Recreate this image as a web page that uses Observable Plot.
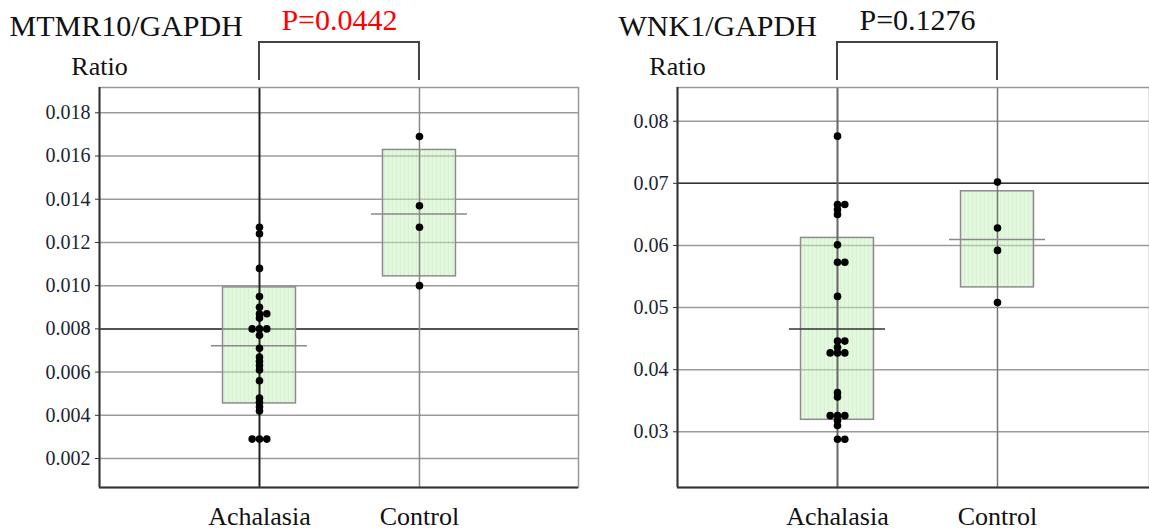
<!DOCTYPE html>
<html><head><meta charset="utf-8">
<script src="https://cdn.jsdelivr.net/npm/d3@7"></script>
<script src="https://cdn.jsdelivr.net/npm/@observablehq/plot@0.6"></script>
<style>
body{margin:0;background:#fff;}
#wrap{display:flex;width:1149px;height:530px;overflow:hidden;}
svg{display:block;overflow:visible}
</style></head><body><div id="wrap"></div>
<script>
const categories = ["Achalasia", "Control"];

// MTMR10/GAPDH
const mtmrTitle = "MTMR10/GAPDH";
const mtmrP = "P=0.0442";
const mtmrAchalasia = [0.0127,0.0124,0.0108,0.0095,0.0090,0.0087,0.0087,0.0085,0.0080,0.0080,0.0080,0.0077,0.0071,0.0067,0.0065,0.0063,0.0061,0.0056,0.0048,0.0046,0.0044,0.0042,0.0029,0.0029,0.0029];
const mtmrControl = [0.0169,0.0137,0.0127,0.0100];
const mtmrMean = [0.00722, 0.01332];
const mtmrLower = [0.00455, 0.01043];
const mtmrUpper = [0.00992, 0.01628];
const mtmrTicks = [0.002,0.004,0.006,0.008,0.010,0.012,0.014,0.016,0.018];
const mtmrDomain = [0.00066, 0.01917];
const mtmrDarkGrid = [0.008];

// WNK1/GAPDH
const wnkTitle = "WNK1/GAPDH";
const wnkP = "P=0.1276";
const wnkAchalasia = [0.0776,0.0666,0.0666,0.0658,0.0650,0.0601,0.0573,0.0573,0.0518,0.0446,0.0446,0.0436,0.0427,0.0427,0.0427,0.0363,0.0356,0.0326,0.0326,0.0326,0.0318,0.0310,0.0288,0.0288];
const wnkControl = [0.0702,0.0628,0.0592,0.0508];
const wnkMean = [0.04655, 0.06094];
const wnkLower = [0.03193, 0.05325];
const wnkUpper = [0.06121, 0.06872];
const wnkTicks = [0.03,0.04,0.05,0.06,0.07,0.08];
const wnkDomain = [0.02103, 0.08543];
const wnkDarkGrid = [0.07];

const FONT = "'Liberation Serif','Times New Roman',serif";

function toDots(groups) {
  const out = [];
  groups.forEach((vals, i) => {
    const counts = d3.rollup(vals, v => v.length, v => v);
    const seen = new Map();
    for (const v of vals) {
      const n = counts.get(v), k = seen.get(v) || 0;
      seen.set(v, k + 1);
      const off = n === 1 ? 0 : n === 2 ? k : k - 1;
      out.push({i, v, off});
    }
  });
  return out;
}

function panel(o) {
  const dots = toDots([o.ach, o.ctl]);
  const boxes = categories.map((c, i) => ({i, mean: o.mean[i], lower: o.lower[i], upper: o.upper[i]}));
  const marginTop = 87, height = 530, marginBottom = 43;
  const pid = o.id + "stripe";
  const fmt = d3.format(o.fmt);
  const bracket = (index, scales, values, dims) => {
    const x0 = scales.x(0), x1 = scales.x(1), t = dims.marginTop;
    return d3.create("svg:path")
      .attr("d", `M${x0},${t - 7}V${t - 45}H${x1}V${t - 7}`)
      .attr("fill", "none").attr("stroke", "#444").attr("stroke-width", 2).node();
  };
  const svg = Plot.plot({
    width: o.width, height, marginTop, marginBottom,
    marginLeft: o.marginLeft, marginRight: o.marginRight,
    style: {fontFamily: FONT, background: "#fff", overflow: "visible"},
    x: {type: "linear", domain: o.xDomain, axis: null},
    y: {domain: o.yDomain, axis: null},
    marks: [
      Plot.ruleY(o.ticks, {stroke: "#9a9a9a", strokeWidth: 1.5}),
      Plot.ruleY(o.dark, {stroke: "#333", strokeWidth: 1.5}),
      Plot.rect(boxes, {x1: d => d.i - 0.228, x2: d => d.i + 0.228, y1: "lower", y2: "upper",
        fill: `url(#${pid})`, fillOpacity: 0.5, stroke: "#8c8c8c", strokeWidth: 1.5}),
      Plot.ruleX([0], {stroke: o.achLine, strokeWidth: 2}),
      Plot.ruleX([1], {stroke: o.ctlLine, strokeWidth: 1.5}),
      Plot.ruleY(boxes, {y: "mean", x1: d => d.i - 0.3, x2: d => d.i + 0.3,
        stroke: d => o.meanColors[d.i], strokeWidth: 1.5}),
      ...[-1, 0, 1].map(k => Plot.dot(dots.filter(d => d.off === k),
        {x: "i", y: "v", dx: k * 7.3, r: 3.8, fill: "#000", stroke: "none"})),
      Plot.frame({stroke: "#999", strokeWidth: 1.5}),
      Plot.ruleX([o.xDomain[0]], {stroke: "#333", strokeWidth: 2}),
      Plot.ruleY([o.yDomain[0]], {stroke: "#333", strokeWidth: 2}),
      Plot.axisY({ticks: o.ticks, tickFormat: () => "", tickSize: 4, stroke: "#333", label: null}),
      Plot.text(o.ticks, {y: d => d, text: d => fmt(d), frameAnchor: "left", textAnchor: "end",
        dx: -9, fontSize: 20, fontFamily: FONT, fill: "#1c2333"}),
      Plot.text([0, 1], {x: d => d, text: d => categories[d], frameAnchor: "bottom",
        lineAnchor: "top", dy: 19, fontSize: 26, fontFamily: FONT, fill: "#111"}),
      Plot.text([o.title], {frameAnchor: "top-left", dx: o.titleX - o.marginLeft, dy: 35 - marginTop,
        lineAnchor: "bottom", textAnchor: "start", fontSize: 30, fontFamily: FONT, fill: "#111"}),
      Plot.text(["Ratio"], {frameAnchor: "top-left", dy: 74 - marginTop, lineAnchor: "bottom",
        textAnchor: "middle", fontSize: 26, fontFamily: FONT, fill: "#111"}),
      Plot.text([o.p], {x: 0.5, frameAnchor: "top", dy: 29.3 - marginTop, lineAnchor: "bottom",
        textAnchor: "middle", fontSize: 30, fontFamily: FONT, fill: o.pColor}),
      bracket
    ]
  });
  const defs = d3.create("svg:defs");
  const pat = defs.append("pattern").attr("id", pid).attr("width", 4).attr("height", 10)
    .attr("patternUnits", "userSpaceOnUse");
  pat.append("rect").attr("width", 4).attr("height", 10).attr("fill", "#c9f1c0");
  pat.append("rect").attr("width", 1).attr("height", 10).attr("fill", "#aee6a3");
  svg.insertBefore(defs.node(), svg.firstChild);
  return svg;
}

const wrap = document.getElementById("wrap");
wrap.appendChild(panel({
  id: "mtmr", title: mtmrTitle, p: mtmrP, pColor: "#ff0000",
  ach: mtmrAchalasia, ctl: mtmrControl, mean: mtmrMean, lower: mtmrLower, upper: mtmrUpper,
  ticks: mtmrTicks, fmt: ".3f", yDomain: mtmrDomain, dark: mtmrDarkGrid,
  width: 580, marginLeft: 99, marginRight: 2, xDomain: [-1, 1.994], titleX: 9,
  achLine: "#222", ctlLine: "#888", meanColors: ["#888", "#888"]
}));
wrap.appendChild(panel({
  id: "wnk", title: wnkTitle, p: wnkP, pColor: "#111",
  ach: wnkAchalasia, ctl: wnkControl, mean: wnkMean, lower: wnkLower, upper: wnkUpper,
  ticks: wnkTicks, fmt: ".2f", yDomain: wnkDomain, dark: wnkDarkGrid,
  width: 569, marginLeft: 97, marginRight: 0, xDomain: [-1, 1.95], titleX: 38,
  achLine: "#666", ctlLine: "#777", meanColors: ["#333", "#888"]
}));
</script></body></html>
